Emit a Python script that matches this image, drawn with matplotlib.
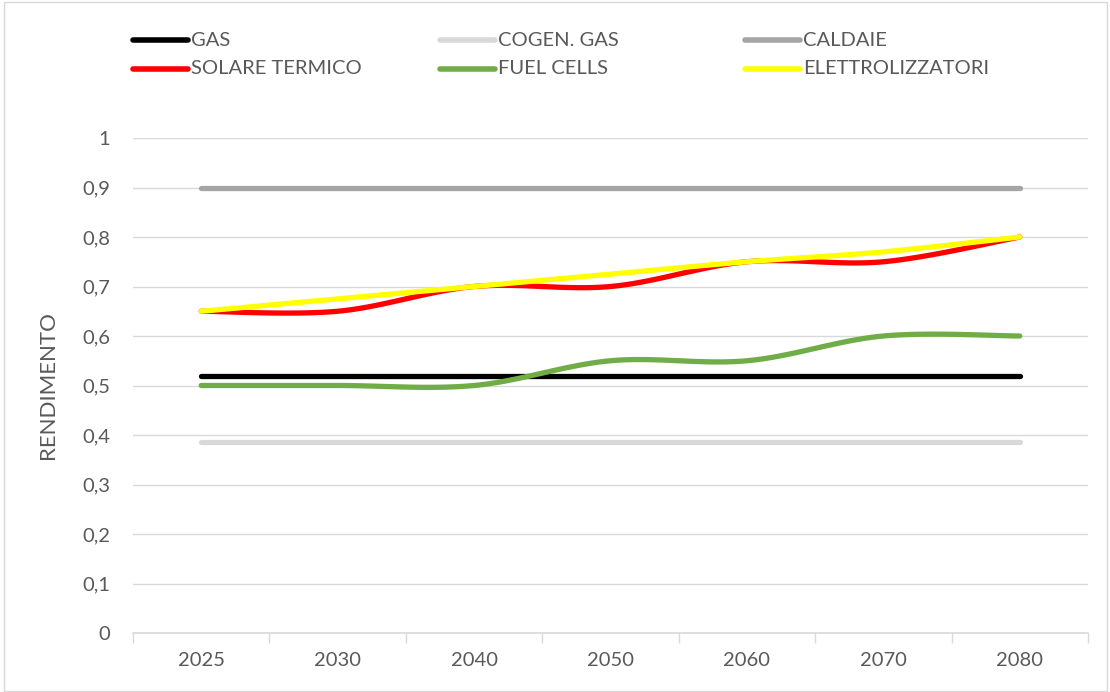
import numpy as np
import matplotlib
matplotlib.use("Agg")
import matplotlib.pyplot as plt
from matplotlib.patches import Rectangle
from matplotlib.lines import Line2D
from matplotlib.ticker import FuncFormatter, FixedLocator

plt.rcParams["path.simplify"] = False

years = ["2025", "2030", "2040", "2050", "2060", "2070", "2080"]
gas = [0.52, 0.52, 0.52, 0.52, 0.52, 0.52, 0.52]
cogen_gas = [0.385, 0.385, 0.385, 0.385, 0.385, 0.385, 0.385]
caldaie = [0.9, 0.9, 0.9, 0.9, 0.9, 0.9, 0.9]
solare_termico = [0.65, 0.65, 0.70, 0.70, 0.75, 0.75, 0.80]
fuel_cells = [0.50, 0.50, 0.50, 0.55, 0.55, 0.60, 0.60]
elettrolizzatori = [0.65, 0.675, 0.70, 0.725, 0.75, 0.77, 0.80]

series = [
    ("GAS", gas, "#000000"),
    ("COGEN. GAS", cogen_gas, "#D9D9D9"),
    ("CALDAIE", caldaie, "#A5A5A5"),
    ("SOLARE TERMICO", solare_termico, "#FF0000"),
    ("FUEL CELLS", fuel_cells, "#70AD47"),
    ("ELETTROLIZZATORI", elettrolizzatori, "#FFFF00"),
]

FONT = "Lato"
TXT = "#595959"
FS = 14.5
W, H = 1110, 692


def smooth(xs, ys, n=40):
    # Excel-like smoothed line (Catmull-Rom as cubic Bezier)
    P = np.column_stack([xs, ys]).astype(float)
    m = len(P)
    out = []
    for i in range(m - 1):
        p0 = P[max(i - 1, 0)]
        p1 = P[i]
        p2 = P[i + 1]
        p3 = P[min(i + 2, m - 1)]
        c1 = p1 + (p2 - p0) / 6.0
        c2 = p2 - (p3 - p1) / 6.0
        t = np.linspace(0, 1, n)[:, None]
        seg = ((1 - t) ** 3) * p1 + 3 * ((1 - t) ** 2) * t * c1 + 3 * (1 - t) * t ** 2 * c2 + t ** 3 * p2
        if i > 0:
            seg = seg[1:]
        out.append(seg)
    out = np.vstack(out)
    return out[:, 0], out[:, 1]


fig = plt.figure(figsize=(W / 100, H / 100), dpi=100)
ax = fig.add_axes([133 / W, 1 - 633 / H, (1088 - 133) / W, (633 - 138) / H])

x = np.arange(len(years))
for name, vals, col in series:
    if len(set(vals)) == 1:
        sx, sy = x, vals
    else:
        sx, sy = smooth(x, vals)
    ax.plot(sx, sy, color=col, lw=3.8, solid_capstyle="round", solid_joinstyle="round", label=name)

ax.set_xlim(-0.5, len(years) - 0.5)
ax.set_ylim(0, 1)
ax.set_yticks(np.arange(0, 1.01, 0.1))
ax.yaxis.set_major_formatter(FuncFormatter(lambda v, p: ("%g" % round(v, 1)).replace(".", ",")))
ax.grid(axis="y", color="#D9D9D9", lw=1)
ax.set_axisbelow(True)
ax.set_xticks(x)
ax.set_xticklabels(years)
ax.xaxis.set_minor_locator(FixedLocator(np.arange(-0.5, len(years), 1.0)))
ax.tick_params(axis="x", which="major", length=0, pad=14, labelsize=FS, labelcolor=TXT)
ax.tick_params(axis="x", which="minor", length=7, width=1, color="#D9D9D9", direction="out")
ax.tick_params(axis="y", length=0, pad=16.5, labelsize=FS, labelcolor=TXT)
for lab in ax.get_xticklabels() + ax.get_yticklabels():
    lab.set_fontfamily(FONT)
for s in ["top", "right", "left"]:
    ax.spines[s].set_visible(False)
ax.spines["bottom"].set_color("#D9D9D9")
ax.spines["bottom"].set_linewidth(1.2)

ax.set_ylabel("RENDIMENTO", fontsize=16, color=TXT, fontfamily=FONT)
ax.yaxis.set_label_coords((58 - 133) / (1088 - 133), 0.5)

# legend, laid out as in the original (3 columns x 2 rows, row-wise)
col_x = [133, 440, 745]
row_y = [40, 69]
for k, (name, vals, col) in enumerate(series):
    r, c = divmod(k, 3)
    x0 = col_x[c]
    yy = 1 - row_y[r] / H
    fig.add_artist(Line2D([x0 / W, (x0 + 55) / W], [yy, yy], transform=fig.transFigure,
                          color=col, lw=4, solid_capstyle="round"))
    fig.text((x0 + 58) / W, yy, name, fontsize=FS, color=TXT, fontfamily=FONT,
             ha="left", va="center")

fig.add_artist(Rectangle((0.004, 0.002), 0.993, 0.995, transform=fig.transFigure,
                         fill=False, edgecolor="#D9D9D9", lw=1))

fig.savefig("out.png", dpi=100)
